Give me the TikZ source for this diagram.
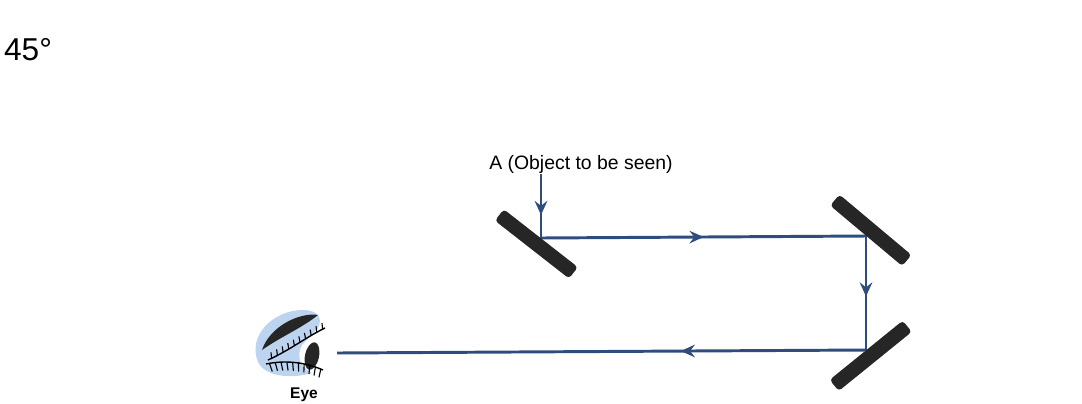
\documentclass[tikz,border=0pt]{standalone}
\usepackage{fontspec}
\setmainfont{Liberation Sans}
\usetikzlibrary{arrows.meta,decorations.markings}

\definecolor{raycol}{HTML}{2F4C7E}
\definecolor{eyeblue}{HTML}{BCD4EF}

\begin{document}
\begin{tikzpicture}[x=0.025cm,y=-0.025cm,
  ray/.style={raycol,line width=2.1pt},
  mid arrow/.style={postaction={decorate,decoration={markings,
      mark=at position #1 with {\arrow{Stealth[length=10pt,width=9pt,inset=3.5pt]}}}}},
  mirror/.style={rectangle,rounded corners=2.5pt,fill=black!85,inner sep=0pt,
      minimum width=2.35cm,minimum height=0.36cm},
  lashes/.style={postaction={decorate,decoration={markings,
      mark=between positions 0.06 and 0.97 step 0.1 with {\draw[line width=0.8pt] (0pt,0pt) -- (#1);}}}}]

  \useasboundingbox (0,0) rectangle (1082,403);

  \node[font=\fontsize{22.5}{26}\selectfont] (angle) at (28,50) {45°};
  \node[font=\fontsize{13.8}{16}\selectfont,inner sep=0.5pt] (obj) at (581,164) {A (Object to be seen)};
  \node[font=\fontsize{11}{13}\selectfont\bfseries] (eyelabel) at (304,395) {Eye};

  % points where the ray meets each mirror
  \coordinate (p1) at (541,238);
  \coordinate (p2) at (866,236);
  \coordinate (p3) at (866,350);
  \coordinate (eye) at (337,353);

  % path of the light
  \draw[ray,mid arrow=0.64] (obj.south -| p1) -- (p1);
  \draw[ray,mid arrow=0.5] (p1) -- (p2);
  \draw[ray,mid arrow=0.53] (p2) -- (p3);
  \draw[ray,mid arrow=0.35] (p3) -- (eye);

  % plane mirrors
  \node[mirror,rotate=-38,anchor=north] (m1) at (p1) {};
  \node[mirror,rotate=-40,anchor=south] (m2) at (p2) {};
  \node[mirror,rotate=39,anchor=north] (m3) at (p3) {};

  % the eye
  \fill[eyeblue] (258,362) .. controls (247,335) and (274,310) .. (303,310)
    .. controls (318,310) and (323,318) .. (318,328) -- (302,345)
    .. controls (296,356) and (300,367) .. (312,373)
    .. controls (292,379) and (265,377) .. (258,362) -- cycle;
  \fill[black!85] (262,350) .. controls (270,326) and (300,312) .. (318,315)
    .. controls (302,328) and (282,336) .. (262,350) -- cycle;
  \draw[line width=1pt,lashes={1.5pt,4pt}] (268,360) .. controls (290,350) and (308,336) .. (325,328);
  \fill[black!85,rotate around={-12:(312,356)}] (312,356) ellipse [x radius=7,y radius=14];
  \draw[line width=1pt,lashes={1pt,-6pt}] (266,364) .. controls (285,360) and (305,362) .. (323,370);

\end{tikzpicture}
\end{document}
